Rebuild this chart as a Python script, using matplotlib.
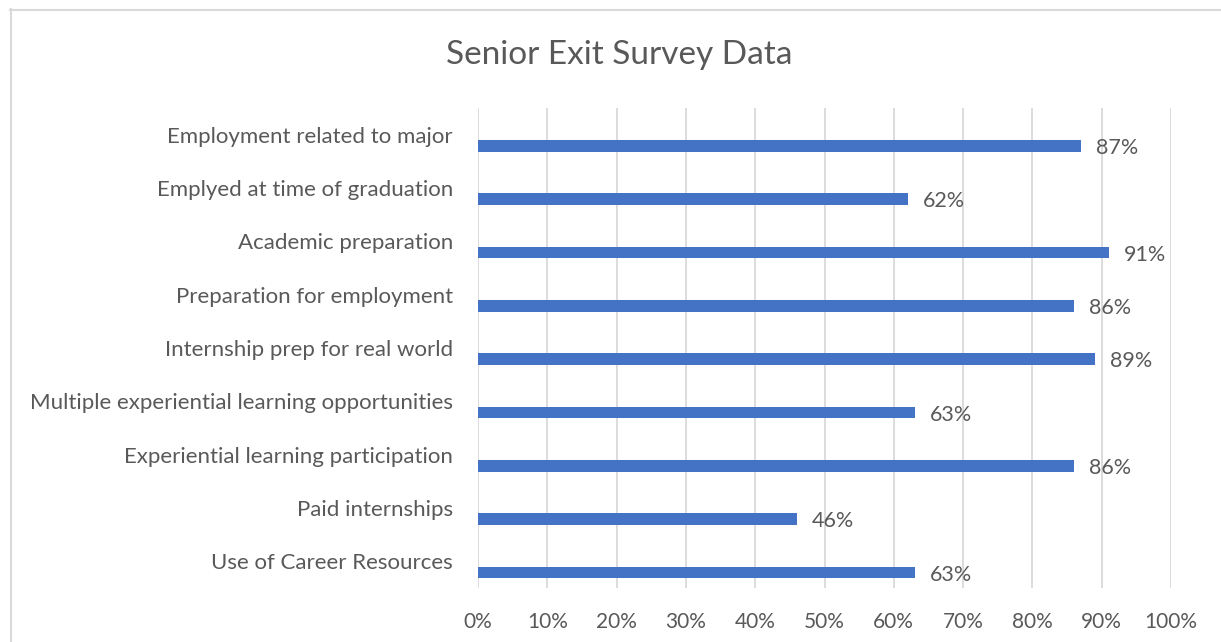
import matplotlib.pyplot as plt
from matplotlib.lines import Line2D

categories = [
    'Employment related to major',
    'Emplyed at time of graduation',
    'Academic preparation',
    'Preparation for employment',
    'Internship prep for real world',
    'Multiple experiential learning opportunities',
    'Experiential learning participation',
    'Paid internships',
    'Use of Career Resources',
]
values = [87, 62, 91, 86, 89, 63, 86, 46, 63]
x_ticks = list(range(0, 101, 10))
x_tick_labels = [f'{t}%' for t in x_ticks]

text_color = '#595959'
grid_color = '#d9d9d9'
bar_color = '#4472c4'

plt.rcParams['font.family'] = ['Lato', 'DejaVu Sans']

fig = plt.figure(figsize=(12.21, 6.42), dpi=100)
ax = fig.add_axes([478 / 1221, 1 - 588 / 642, 693 / 1221, 480 / 642])

pos = list(range(len(categories)))
ax.barh([p + 0.21 for p in pos], values, height=0.22, color=bar_color, zorder=3)
for p, v in zip(pos, values):
    ax.text(v + 2.2, p + 0.25, f'{v}%', va='center', ha='left',
            fontsize=15.5, color=text_color)

ax.set_ylim(len(categories) - 0.5, -0.5)
ax.set_xlim(0, 100)
ax.set_yticks(pos)
ax.set_yticklabels(categories, fontsize=16, color=text_color)
ax.set_xticks(x_ticks)
ax.set_xticklabels(x_tick_labels, fontsize=15, color=text_color)
ax.tick_params(axis='both', length=0)
ax.tick_params(axis='y', pad=18)
ax.tick_params(axis='x', pad=17)
ax.grid(axis='x', color=grid_color, linewidth=1.3, zorder=0)
for s in ax.spines.values():
    s.set_visible(False)

fig.text(619 / 1221, 1 - 55 / 642, 'Senior Exit Survey Data', ha='center',
         va='center', fontsize=24, color=text_color)

# chart border (cut off at right and bottom)
fig.add_artist(Line2D([10 / 1221, 1], [1 - 9.5 / 642] * 2, color=grid_color, lw=1.5))
fig.add_artist(Line2D([10.5 / 1221] * 2, [0, 1 - 9 / 642], color=grid_color, lw=1.5))

fig.savefig('out.png', dpi=100)
